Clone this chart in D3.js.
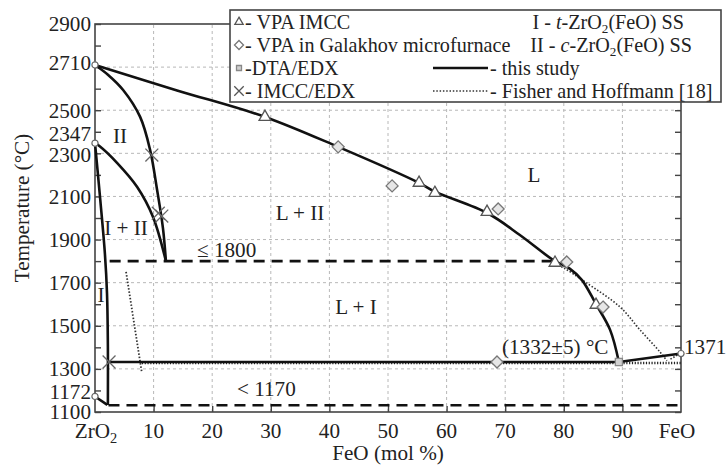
<!DOCTYPE html>
<html><head><meta charset="utf-8">
<script src="https://cdn.jsdelivr.net/npm/d3@7/dist/d3.min.js"></script>
<style>
body{margin:0;background:#fff;}
svg{display:block;}
</style></head><body>
<svg id="c" width="726" height="466"></svg>
<script>
// ---- data ----
const xTickValues = [0,10,20,30,40,50,60,70,80,90,100];
const xTickLabels = ["ZrO2","10","20","30","40","50","60","70","80","90","FeO"];
const yTickValues = [2900,2710,2500,2347,2300,2100,1900,1700,1500,1300,1172,1100];
const yGridValues = [1300,1500,1700,1900,2100,2300,2500,2700];
const xGridValues = [10,20,30,40,50,60,70,80,90];

const liquidus = [[0,2710],[14,2592],[29,2469],[41.5,2330],[55.3,2163],[58,2122],[67,2022],[72.5,1921],[78.2,1805],[81,1765],[83.1,1712],[85.5,1600],[87.9,1481],[89.4,1332]];
const feoBranch = [[89.4,1332],[100,1371]];
const cubicSolidus = [[0,2710],[2.2,2665],[4.8,2594],[7.7,2469],[9.4,2316],[10.6,2130],[11.6,1952],[12.1,1800]];
const cubicTetra = [[0,2347],[0.8,2333],[3.8,2255],[7.2,2144],[9.9,2005],[12.1,1800]];
const tetraBoundary = [[0,2347],[0.9,2084],[1.7,1830],[2.05,1650],[2.2,1400],[2.2,1133]];
const lowBranch = [[0,1172],[2.1,1133]];
const eutectic = [[2.2,1332],[89.4,1332]];
const dashed1800 = [[2.5,1800],[78.5,1800]];
const dashed1170 = [[2.3,1131],[100,1131]];

const fisherEutectic = [[8,1327],[100,1327]];
const fisherSteep = [[5.3,1750],[8.0,1281]];
const fisherLiquidus = [[78,1792],[80,1768],[83.6,1704],[89.6,1587],[93,1481],[96.4,1379],[97.6,1338]];
const fisherEnd = [[98.2,1345],[99.6,1368]];

const vpaImcc = [[29,2469],[55.3,2163],[58,2116],[66.9,2028],[78.5,1792],[85.5,1597]];
const vpaGalakhov = [[41.5,2330],[50.7,2149],[68.8,2042],[80.5,1796],[86.7,1587],[68.6,1332]];
const dtaEdx = [[89.4,1332]];
const imccEdx = [[9.7,2292],[10.8,2022],[11.4,2009],[2.4,1332]];
const pureMelts = [[0,2710],[0,2347],[0,1172],[100,1371]];

const legendLeft = ["- VPA IMCC","- VPA in Galakhov microfurnace","-DTA/EDX","- IMCC/EDX"];
const legendRightTop = [["I - ","t","-ZrO","2","(FeO) SS"],["II - ","c","-ZrO","2","(FeO) SS"]];
const legendRightBottom = ["- this study","- Fisher and Hoffmann [18]"];

// ---- font selection (serif if available, else scaled) ----
const cv = document.createElement("canvas").getContext("2d");
function w(str, fam){ cv.font = `20px ${fam}`; return cv.measureText(str).width; }
const probe = "abcdefghijklmnopqrstuvwxyzABCDEFGHIJ0123456789";
const candidates = ["Liberation Serif","Tinos","Times New Roman","DejaVu Serif","Noto Serif","FreeSerif","Liberation Sans","Arimo","Noto Sans","DejaVu Sans"];
let FONT = "sans-serif";
for (const c of candidates){
  if (w(probe, `"${c}", monospace`) !== w(probe, "monospace")) { FONT = `"${c}"`; break; }
}
const SCALE = Math.min(1.05, 267 / w("- VPA in Galakhov microfurnace", FONT));
const FS = 21 * SCALE, LFS = 20 * SCALE;

// ---- chart ----
const svg = d3.select("#c").attr("font-family", FONT);
const x = d3.scaleLinear().domain([0,100]).range([95,681]);
const y = d3.scaleLinear().domain([1100,2900]).range([412,24]);

svg.append("g").selectAll("line").data(yGridValues).join("line")
  .attr("x1",x(0)).attr("x2",x(100)).attr("y1",d=>y(d)).attr("y2",d=>y(d))
  .attr("stroke","#b8b8b8").attr("stroke-width",1).attr("stroke-dasharray","3,3");
svg.append("g").selectAll("line").data(xGridValues).join("line")
  .attr("x1",d=>x(d)).attr("x2",d=>x(d)).attr("y1",y(1100)).attr("y2",y(2900))
  .attr("stroke","#b8b8b8").attr("stroke-width",1).attr("stroke-dasharray","3,3");

svg.append("rect").attr("x",x(0)).attr("y",y(2900)).attr("width",x(100)-x(0)).attr("height",y(1100)-y(2900))
  .attr("fill","none").attr("stroke","#444").attr("stroke-width",1.6);

const minorY = d3.range(1100,2901,100);
function cleanTicks(g){g.select(".domain").remove();g.selectAll("line").attr("stroke","#444").attr("stroke-width",1.4);}
svg.append("g").attr("transform",`translate(${x(0)},0)`)
  .call(d3.axisRight(y).tickValues(minorY).tickSize(6).tickFormat("")).call(cleanTicks);
svg.append("g").attr("transform",`translate(${x(100)},0)`)
  .call(d3.axisLeft(y).tickValues(minorY).tickSize(6).tickFormat("")).call(cleanTicks);
svg.append("g").attr("transform",`translate(0,${y(1100)})`)
  .call(d3.axisTop(x).tickValues(xGridValues).tickSize(6).tickFormat("")).call(cleanTicks);

const yShift = v => v===2347 ? -10 : (v===2300 ? 1 : (v===2710 ? -2 : (v===1172 ? -5 : 0)));
svg.append("g").selectAll("text").data(yTickValues).join("text")
  .attr("x",x(0)-4).attr("y",d=>y(d)+yShift(d)).attr("dy","0.35em")
  .attr("text-anchor","end").attr("font-size",FS).attr("fill","#222").text(d=>d);

const xl = svg.append("g").selectAll("text").data(xTickValues).join("text")
  .attr("x",(d,i)=>x(d) + (i===0 ? 1 : (i===xTickValues.length-1 ? -4 : 0))).attr("y",438)
  .attr("text-anchor","middle").attr("font-size",FS).attr("fill","#222");
xl.each(function(d,i){
  const t=d3.select(this); const lab=xTickLabels[i];
  if(lab==="ZrO2"){ t.append("tspan").text("ZrO"); t.append("tspan").attr("font-size",FS*0.68).attr("dy",5).text("2"); }
  else t.text(lab);
});

svg.append("text").attr("x",388).attr("y",460).attr("text-anchor","middle").attr("font-size",FS).attr("fill","#222").text("FeO (mol %)");
svg.append("text").attr("transform","translate(29,208) rotate(-90)").attr("text-anchor","middle").attr("font-size",FS).attr("fill","#222").text("Temperature (°C)");

const line = d3.line().x(d=>x(d[0])).y(d=>y(d[1]));
const curve = d3.line().x(d=>x(d[0])).y(d=>y(d[1])).curve(d3.curveCatmullRom.alpha(0.5));
function draw(data, gen, opts){
  svg.append("path").datum(data).attr("d",gen).attr("fill","none")
    .attr("stroke",opts.c||"#111").attr("stroke-width",opts.w||2.6)
    .attr("stroke-dasharray",opts.dash||null).attr("stroke-linejoin","round");
}
draw(fisherEutectic, line, {w:2.4, dash:"1.2,1.6", c:"#222"});
draw(fisherSteep, line, {w:1.8, dash:"1.5,1.8", c:"#333"});
draw(fisherLiquidus, curve, {w:1.6, dash:"1.5,1.8", c:"#333"});
draw(fisherEnd, line, {w:1.6, dash:"1.5,1.8", c:"#333"});
draw(dashed1800, line, {w:2.6, dash:"11,7"});
draw(dashed1170, line, {w:2.6, dash:"11,7"});
draw(liquidus, curve, {});
draw(feoBranch, line, {});
draw(cubicSolidus, curve, {});
draw(cubicTetra, curve, {});
draw(tetraBoundary, curve, {});
draw(lowBranch, line, {});
draw(eutectic, line, {w:2.4});

const sym = (type,size)=>d3.symbol().type(type).size(size)();
function markers(data, type, size, fill, stroke, sw){
  svg.append("g").selectAll("path").data(data).join("path")
    .attr("transform",d=>`translate(${x(d[0])},${y(d[1])})`)
    .attr("d",sym(type,size)).attr("fill",fill).attr("stroke",stroke).attr("stroke-width",sw);
}
const diamond = {draw(ctx,size){const r=Math.sqrt(size)/1.4;ctx.moveTo(0,-r);ctx.lineTo(r,0);ctx.lineTo(0,r);ctx.lineTo(-r,0);ctx.closePath();}};
markers(vpaImcc, d3.symbolTriangle, 60, "#fff", "#555", 1.3);
markers(vpaGalakhov, diamond, 70, "#e6e6e6", "#777", 1.3);
markers(dtaEdx, d3.symbolSquare, 50, "#d0d0d0", "#888", 1.3);
markers(imccEdx, d3.symbolX, 110, "none", "#666", 1.3);
markers(pureMelts, d3.symbolCircle, 30, "#fff", "#666", 1.2);

const labels = [["II",120,143,"middle"],["I + II",126,235,"middle"],["I",101,302,"middle"],["L + II",300,220,"middle"],["L",534,182,"middle"],["L + I",356,314,"middle"],["≤ 1800",197,257,"start"],["< 1170",237,396,"start"],["(1332±5) °C",502,354,"start"],["1371",684,354,"start"]];
svg.append("g").selectAll("text").data(labels).join("text")
  .attr("x",d=>d[1]).attr("y",d=>d[2]).attr("text-anchor",d=>d[3])
  .attr("font-size",FS).attr("fill","#222").text(d=>d[0]);

const lg = svg.append("g");
lg.append("rect").attr("x",230).attr("y",10).attr("width",491).attr("height",92)
  .attr("fill","#fff").attr("stroke","#444").attr("stroke-width",1.6);
const rowY = [29,52,75,98];
const legSyms = [[d3.symbolTriangle,30,"#fff","#555"],[diamond,40,"#fff","#777"],[d3.symbolSquare,25,"#d0d0d0","#888"],[d3.symbolX,60,"none","#555"]];
legSyms.forEach((s,i)=>{
  lg.append("path").attr("transform",`translate(239,${rowY[i]-7})`).attr("d",sym(s[0],s[1]))
    .attr("fill",s[2]).attr("stroke",s[3]).attr("stroke-width",1.3);
});
lg.selectAll("text.l").data(legendLeft).join("text").attr("class","l")
  .attr("x",245).attr("y",(d,i)=>rowY[i]).attr("font-size",LFS).attr("fill","#222").text(d=>d);
const rEnd = [684,692];
legendRightTop.forEach((parts,i)=>{
  const t = lg.append("text").attr("x",rEnd[i]).attr("y",rowY[i]).attr("text-anchor","end").attr("font-size",LFS).attr("fill","#222");
  t.append("tspan").text(parts[0]);
  t.append("tspan").attr("font-style","italic").text(parts[1]);
  t.append("tspan").text(parts[2]);
  t.append("tspan").attr("font-size",LFS*0.65).attr("dy",4).text(parts[3]);
  t.append("tspan").attr("dy",-4).text(parts[4]);
});
lg.append("line").attr("x1",433).attr("x2",488).attr("y1",rowY[2]-7).attr("y2",rowY[2]-7).attr("stroke","#111").attr("stroke-width",2.6);
lg.append("line").attr("x1",433).attr("x2",488).attr("y1",rowY[3]-7).attr("y2",rowY[3]-7).attr("stroke","#333").attr("stroke-width",1.6).attr("stroke-dasharray","1.5,1.8");
lg.selectAll("text.r").data(legendRightBottom).join("text").attr("class","r")
  .attr("x",490).attr("y",(d,i)=>rowY[i+2]).attr("font-size",LFS).attr("fill","#222").text(d=>d);
</script>
</body></html>
